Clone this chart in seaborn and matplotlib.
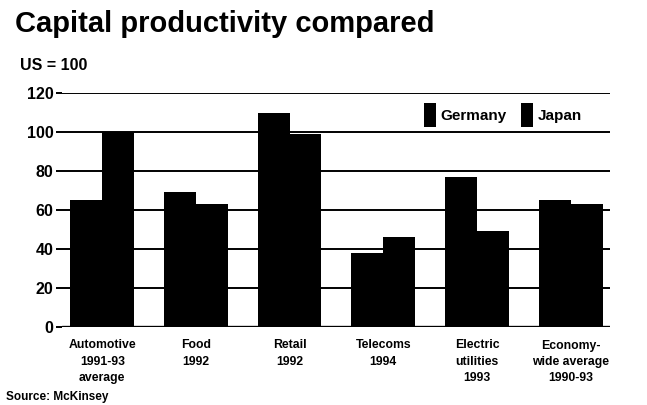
import matplotlib
matplotlib.use("Agg")
import matplotlib.pyplot as plt
import seaborn as sns
import pandas as pd

categories = ["Automotive\n1991-93\naverage", "Food\n1992", "Retail\n1992",
              "Telecoms\n1994", "Electric\nutilities\n1993",
              "Economy-\nwide average\n1990-93"]
germany = [65, 69, 110, 38, 77, 65]
japan = [100, 63, 99, 46, 49, 63]
series = ["Germany", "Japan"]
yticks = [0, 20, 40, 60, 80, 100, 120]

df = pd.DataFrame({
    "category": categories * 2,
    "value": germany + japan,
    "country": [series[0]] * len(categories) + [series[1]] * len(categories),
})

sns.set_theme(style="white")
plt.rcParams["font.family"] = ["Liberation Sans", "DejaVu Sans"]
plt.rcParams["text.color"] = "black"
plt.rcParams["xtick.color"] = "black"
plt.rcParams["ytick.color"] = "black"

fig = plt.figure(figsize=(6.47, 4.05), dpi=100)
ax = fig.add_axes([62 / 647, 1 - 327 / 405, 548 / 647, 234 / 405])

for t in yticks[1:]:
    ax.axhline(t, color="black", lw=1.4, zorder=1)

sns.barplot(data=df, x="category", y="value", hue="country",
            palette={"Germany": "black", "Japan": "black"},
            width=0.68, gap=0, saturation=1, ax=ax, zorder=3,
            edgecolor="black", linewidth=0)

ax.axhline(0, color="black", lw=2.4, zorder=4)
ax.set_ylim(0, 120)
ax.set_xlim(-0.43, 5.42)
ax.set_yticks(yticks)
ax.set_yticklabels([str(t) for t in yticks], fontsize=11.5, fontweight="bold")
ax.set_xticks(range(len(categories)))
ax.set_xticklabels(categories, fontsize=8.8, fontweight="bold", linespacing=1.45)
ax.tick_params(axis="y", length=4, width=1.4, color="black", pad=2, left=True)
ax.tick_params(axis="x", length=0, pad=9)
ax.set_xlabel("")
ax.set_ylabel("")
for s in ax.spines.values():
    s.set_visible(False)

leg = ax.legend(loc="center left", bbox_to_anchor=(410 / 647, 1 - 115 / 405),
                bbox_transform=fig.transFigure, ncol=2, frameon=False,
                handlelength=0.8, handleheight=2.0, handletextpad=0.3,
                columnspacing=0.9, prop={"weight": "bold", "size": 11})

fig.text(15 / 647, 1 - 24 / 405, "Capital productivity compared",
         fontsize=21, fontweight="heavy", va="center", ha="left")
fig.text(20 / 647, 1 - 66 / 405, "US = 100", fontsize=11.5, fontweight="bold",
         va="center", ha="left")
fig.text(6 / 647, 1 - 397 / 405, "Source: McKinsey", fontsize=8.5,
         fontweight="bold", va="center", ha="left")

fig.savefig("out.png", dpi=100, facecolor="white")
